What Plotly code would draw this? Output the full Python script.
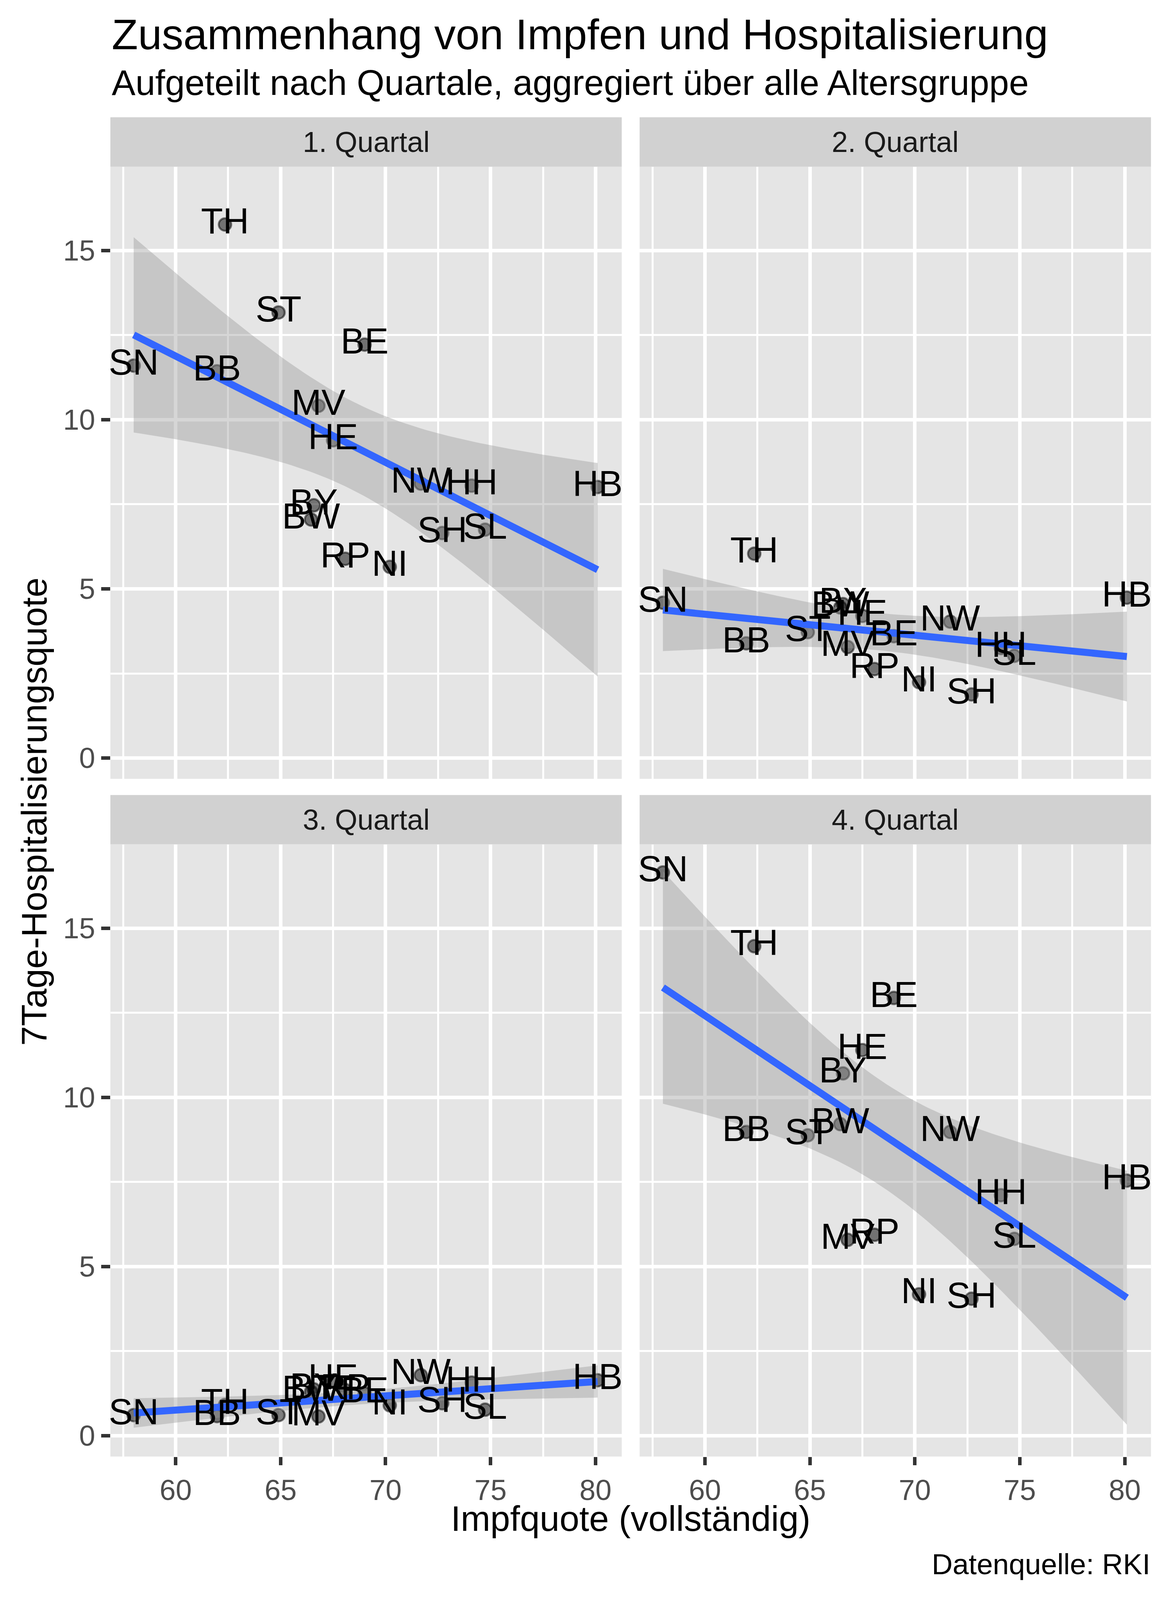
import numpy as np
import plotly.graph_objects as go

# data: Bundesländer, Impfquote (vollständig) and 7-Tage-Hospitalisierungsquote per quarter
states = ['SN', 'TH', 'BB', 'ST', 'BY', 'BW', 'MV', 'HE', 'BE', 'RP', 'NI', 'NW', 'SH', 'HH', 'SL', 'HB']
impfquote = [58.0, 62.35, 61.97, 64.9, 66.58, 66.45, 66.8, 67.5, 69.0, 68.08, 70.2, 71.68, 72.7, 74.1, 74.74, 80.1]
q1 = [11.60, 15.77, 11.43, 13.17, 7.47, 7.05, 10.41, 9.39, 12.22, 5.89, 5.65, 8.11, 6.65, 8.05, 6.75, 8.01]
q2 = [4.59, 6.04, 3.39, 3.72, 4.55, 4.45, 3.28, 4.20, 3.60, 2.63, 2.24, 4.03, 1.88, 3.25, 3.02, 4.74]
q3 = [0.61, 0.91, 0.58, 0.61, 1.37, 1.30, 0.57, 1.63, 1.25, 1.35, 0.90, 1.79, 0.96, 1.57, 0.77, 1.64]
q4 = [16.65, 14.47, 8.98, 8.88, 10.71, 9.21, 5.79, 11.40, 12.94, 5.94, 4.18, 8.98, 4.05, 7.11, 5.82, 7.54]
quartale = ['1. Quartal', '2. Quartal', '3. Quartal', '4. Quartal']
x_ticks = [60, 65, 70, 75, 80]
y_ticks = [0, 5, 10, 15]

# the visible page is a bit shorter than 4500 px, so the figure is made to fit it;
# all positions below are given in the 3000x4500 frame and turned into fractions
W, H = 2984, 4060
RW, RH = 3000, 4500
FONT = 'Liberation Sans'

# panel boxes in 3000x4500 pixels: (left, right, top, bottom)
panels = [(276, 1592, 464, 2201), (1638, 2954, 464, 2201),
          (276, 1592, 2387, 4124), (1638, 2954, 2387, 4124)]
strip_h = 140


def lm_band(x, y, n=80):
    # linear model with 95% confidence band, like geom_smooth(method='lm')
    x = np.array(x)
    y = np.array(y)
    b, a = np.polyfit(x, y, 1)
    res = y - (a + b * x)
    df = len(x) - 2
    s = np.sqrt((res ** 2).sum() / df)
    xs = np.linspace(x.min(), x.max(), n)
    se = s * np.sqrt(1 / len(x) + (xs - x.mean()) ** 2 / ((x - x.mean()) ** 2).sum())
    t = 2.144787  # qt(0.975, 14)
    fit = a + b * xs
    return xs, fit, fit - t * se, fit + t * se


fig = go.Figure()
layout = {}
shapes = []
annotations = []

for i, (vals, name) in enumerate(zip([q1, q2, q3, q4], quartale)):
    n = '' if i == 0 else str(i + 1)
    xa, ya = 'x' + n, 'y' + n
    l, r, t, b = panels[i]

    # points
    fig.add_trace(go.Scatter(
        x=impfquote, y=vals, mode='markers', xaxis=xa, yaxis=ya,
        marker=dict(size=32, color='rgba(0,0,0,0.5)',
                    line=dict(width=5, color='rgba(0,0,0,0.5)')),
        showlegend=False, hoverinfo='skip'))

    # smooth (lm) with confidence ribbon
    xs, fit, lo, hi = lm_band(impfquote, vals)
    fig.add_trace(go.Scatter(
        x=list(xs) + list(xs[::-1]), y=list(hi) + list(lo[::-1]),
        mode='lines', fill='toself', fillcolor='rgba(153,153,153,0.4)',
        line=dict(width=0), xaxis=xa, yaxis=ya, showlegend=False, hoverinfo='skip'))
    fig.add_trace(go.Scatter(
        x=xs, y=fit, mode='lines', line=dict(color='#3366FF', width=18),
        xaxis=xa, yaxis=ya, showlegend=False, hoverinfo='skip'))

    # state labels
    fig.add_trace(go.Scatter(
        x=impfquote, y=vals, mode='text', text=states, textposition='middle center',
        textfont=dict(family=FONT, size=92, color='black'),
        xaxis=xa, yaxis=ya, showlegend=False, hoverinfo='skip'))

    bottom_row = i >= 2
    left_col = i % 2 == 0
    layout['xaxis' + n] = dict(
        domain=[l / RW, r / RW], anchor=ya, range=[56.89, 81.25],
        tickvals=x_ticks, showticklabels=bottom_row,
        ticks='outside' if bottom_row else '', ticklen=21, tickwidth=9, tickcolor='#333333',
        tickfont=dict(family=FONT, size=74, color='#4D4D4D'),
        showgrid=True, gridcolor='white', gridwidth=9, zeroline=False, showline=False,
        minor=dict(tickvals=[57.5, 62.5, 67.5, 72.5, 77.5], showgrid=True,
                   gridcolor='white', gridwidth=4.5, ticks=''))
    layout['yaxis' + n] = dict(
        domain=[1 - b / RH, 1 - t / RH], anchor=xa, range=[-0.615, 17.48],
        tickvals=y_ticks, showticklabels=left_col,
        ticks='outside' if left_col else '', ticklen=23, tickwidth=9, tickcolor='#333333',
        tickfont=dict(family=FONT, size=74, color='#4D4D4D'),
        showgrid=True, gridcolor='white', gridwidth=9, zeroline=False, showline=False,
        minor=dict(tickvals=[2.5, 7.5, 12.5, 17.5], showgrid=True,
                   gridcolor='white', gridwidth=4.5, ticks=''))

    # facet strip
    shapes.append(dict(type='rect', xref='paper', yref='paper',
                       x0=l / RW, x1=r / RW, y0=1 - t / RH, y1=1 - (t - strip_h) / RH,
                       fillcolor='#D1D1D1', line=dict(width=0)))
    annotations.append(dict(text=name, xref='paper', yref='paper',
                            x=(l + r) / 2 / RW, y=1 - (t - strip_h / 2) / RH,
                            xanchor='center', yanchor='middle', showarrow=False,
                            font=dict(family=FONT, size=74, color='#1A1A1A')))

# titles and caption
annotations += [
    dict(text='Zusammenhang von Impfen und Hospitalisierung', xref='paper', yref='paper',
         x=277 / RW, y=1 - 88 / RH, xanchor='left', yanchor='middle', showarrow=False,
         font=dict(family=FONT, size=110, color='black')),
    dict(text='Aufgeteilt nach Quartale, aggregiert über alle Altersgruppe', xref='paper', yref='paper',
         x=277 / RW, y=1 - 226 / RH, xanchor='left', yanchor='middle', showarrow=False,
         font=dict(family=FONT, size=91, color='black')),
    dict(text='Impfquote (vollständig)', xref='paper', yref='paper',
         x=1615 / RW, y=1 - 4300 / RH, xanchor='center', yanchor='middle', showarrow=False,
         font=dict(family=FONT, size=91, color='black')),
    dict(text='7Tage-Hospitalisierungsquote', xref='paper', yref='paper',
         x=80 / RW, y=1 - 2294 / RH, xanchor='center', yanchor='middle', showarrow=False,
         textangle=-90, font=dict(family=FONT, size=91, color='black')),
    dict(text='Datenquelle: RKI', xref='paper', yref='paper',
         x=2954 / RW, y=1 - 4430 / RH, xanchor='right', yanchor='middle', showarrow=False,
         font=dict(family=FONT, size=74, color='black')),
]

fig.update_layout(
    width=W, height=H, margin=dict(l=0, r=0, t=0, b=0),
    paper_bgcolor='white', plot_bgcolor='#E5E5E5',
    shapes=shapes, annotations=annotations, showlegend=False,
    **layout)

fig.write_html('out.html')
